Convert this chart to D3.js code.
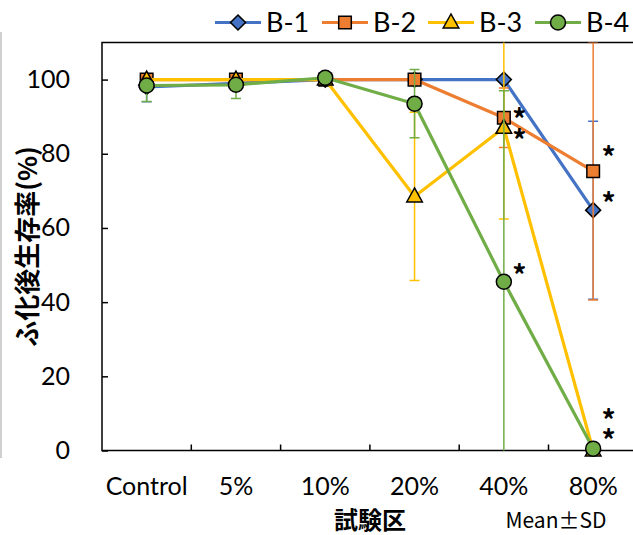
<!DOCTYPE html>
<html><head><meta charset="utf-8">
<script src="https://cdn.jsdelivr.net/npm/d3@7"></script>
<style>
html,body{margin:0;padding:0;background:#fff;}
svg{display:block;}
</style>
</head><body>
<svg id="chart" width="633" height="535"></svg>
<script>
const categories = ["Control","5%","10%","20%","40%","80%"];
const seriesNames = ["B-1","B-2","B-3","B-4"];
const seriesColors = ["#4472C4","#ED7D31","#FFC000","#70AD47"];
const seriesShapes = ["diamond","square","triangle","circle"];
const b1 = [98, 99, 100, 100, 100, 64.8];
const b2 = [100, 100, 100, 100, 89.7, 75.3];
const b3 = [100, 100, 100, 68.5, 87, 0];
const b4 = [98.4, 98.6, 100.5, 93.5, 45.5, 0.5];
const b1Up = [2, 0, 0, 0, 0, 24];
const b1Down = [4, 0, 0, 0, 0, 24];
const b2Up = [0, 0, 0, 0, 8, 34.7];
const b2Down = [0, 0, 0, 0, 8, 34.7];
const b3Up = [0, 0, 0, 22.7, 24.6, 0];
const b3Down = [0, 0, 0, 22.7, 24.6, 0];
const b4Up = [1.5, 1.3, 0, 9.2, 51.5, 0];
const b4Down = [4.3, 3.7, 0, 9.2, 51.5, 0];
const yTicks = [0, 20, 40, 60, 80, 100];
// significance marks: category and the value at which the "*" sits
const marks = [
  {cat: "40%", v: 90.1},
  {cat: "40%", v: 84.5},
  {cat: "40%", v: 48.1},
  {cat: "80%", v: 79.9},
  {cat: "80%", v: 67.5},
  {cat: "80%", v: 9.1},
  {cat: "80%", v: 3.7}
];
const yTitle = "ふ化後生存率(%)";
const xTitle = "試験区";
const note = "Mean\u00B1SD";

const values = [b1, b2, b3, b4];
const ups = [b1Up, b2Up, b3Up, b4Up];
const downs = [b1Down, b2Down, b3Down, b4Down];

const svg = d3.select("#chart");
const L = 102, T = 42.5, B = 450.5, band = 89.3;
const R = L + band * categories.length;
const x = d3.scaleBand().domain(categories).range([L, R]).paddingInner(0).paddingOuter(0);
const cx = c => x(c) + x.bandwidth() / 2;
const y = d3.scaleLinear().domain([0, 110]).range([B, T]);

const latin = "Lato, 'Noto Sans', sans-serif";
const jp = "'Noto Sans CJK JP', sans-serif";

// outer chart border remnant
svg.append("line").attr("x1", 1).attr("x2", 1).attr("y1", 32).attr("y2", 458)
  .attr("stroke", "#b0b0b0").attr("stroke-width", 1.2);

// clip
svg.append("defs").append("clipPath").attr("id", "plotclip")
  .append("rect").attr("x", L).attr("y", T).attr("width", R - L).attr("height", B - T);

// frame
svg.append("rect").attr("x", L).attr("y", T).attr("width", R - L).attr("height", B - T)
  .attr("fill", "none").attr("stroke", "#000").attr("stroke-width", 1.5);

// y axis
const yAxis = d3.axisLeft(y).tickValues(yTicks).tickSizeInner(-6).tickSizeOuter(0).tickPadding(32);
const gy = svg.append("g").attr("transform", `translate(${L},0)`).call(yAxis);
gy.select(".domain").remove();
gy.selectAll(".tick line").attr("stroke", "#000").attr("stroke-width", 1.5);
gy.selectAll(".tick text").attr("font-family", latin).attr("font-size", 25).attr("fill", "#000");

// x axis labels
const xAxis = d3.axisBottom(x).tickSize(0).tickPadding(27);
const gx = svg.append("g").attr("transform", `translate(0,${B})`).call(xAxis);
gx.select(".domain").remove();
gx.selectAll(".tick text").attr("font-family", latin).attr("font-size", 25).attr("fill", "#000");
// boundary ticks
svg.append("g").selectAll("line").data(categories.slice(1)).join("line")
  .attr("x1", d => x(d)).attr("x2", d => x(d))
  .attr("y1", B).attr("y2", B - 6)
  .attr("stroke", "#000").attr("stroke-width", 1.5);

function shapePath(shape) {
  if (shape === "diamond") return "M0,-7.5L7.5,0L0,7.5L-7.5,0Z";
  if (shape === "square") return "M-6.3,-6.3H6.3V6.3H-6.3Z";
  if (shape === "triangle") return "M0,-8.5L7.8,5.5L-7.8,5.5Z";
  return null;
}
function drawMarker(g, shape, color, px, py) {
  if (shape === "circle") {
    g.append("circle").attr("cx", px).attr("cy", py).attr("r", 7.5)
      .attr("fill", color).attr("stroke", "#000").attr("stroke-width", 1.5);
  } else {
    g.append("path").attr("d", shapePath(shape)).attr("transform", `translate(${px},${py})`)
      .attr("fill", color).attr("stroke", "#000").attr("stroke-width", 1.5);
  }
}

const line = d3.line().x((d, i) => cx(categories[i])).y(d => y(d));

values.forEach((vals, si) => {
  const color = seriesColors[si];
  const g = svg.append("g");
  const gc = g.append("g").attr("clip-path", "url(#plotclip)");
  // error bars
  vals.forEach((v, i) => {
    const up = ups[si][i], dn = downs[si][i];
    if (!up && !dn) return;
    const px = cx(categories[i]);
    const hi = v + up, lo = v - dn;
    gc.append("line").attr("x1", px).attr("x2", px).attr("y1", y(hi)).attr("y2", y(lo))
      .attr("stroke", color).attr("stroke-width", 1.5);
    [hi, lo].forEach(e => {
      if (e > 110.01 || e < 0) return;
      gc.append("line").attr("x1", px - 5).attr("x2", px + 5).attr("y1", y(e)).attr("y2", y(e))
        .attr("stroke", color).attr("stroke-width", 1.5);
    });
  });
  // line
  g.append("path").datum(vals).attr("d", line).attr("fill", "none")
    .attr("stroke", color).attr("stroke-width", 3.2).attr("stroke-linejoin", "round");
  // markers
  vals.forEach((v, i) => drawMarker(g, seriesShapes[si], color, cx(categories[i]), y(v)));
});

// asterisks
svg.append("g").selectAll("text").data(marks).join("text")
  .attr("x", d => cx(d.cat) + 15.5).attr("y", d => y(d.v) + 14)
  .attr("text-anchor", "middle")
  .attr("font-family", jp).attr("font-size", 28).attr("font-weight", "bold")
  .attr("fill", "#000").text("*");

// legend
const legend = svg.append("g");
const legX = [215, 322, 428, 535];
seriesNames.forEach((name, i) => {
  const lx = legX[i], ly = 22.5;
  legend.append("line").attr("x1", lx).attr("x2", lx + 46).attr("y1", ly).attr("y2", ly)
    .attr("stroke", seriesColors[i]).attr("stroke-width", 3.2);
  drawMarker(legend, seriesShapes[i], seriesColors[i], lx + 23, ly);
  legend.append("text").attr("x", lx + 51).attr("y", ly + 9.5)
    .attr("font-family", latin).attr("font-size", 27).attr("fill", "#000").text(name);
});

// titles
svg.append("text").attr("transform", "translate(25,246.5) rotate(-90)")
  .attr("text-anchor", "middle").attr("dominant-baseline", "central")
  .attr("font-family", jp).attr("font-weight", "bold")
  .attr("font-size", 26).attr("fill", "#000").text(yTitle);
svg.append("text").attr("x", 370).attr("y", 518)
  .attr("text-anchor", "middle").attr("dominant-baseline", "central")
  .attr("font-family", jp).attr("font-weight", "bold")
  .attr("font-size", 24).attr("fill", "#000").text(xTitle);
svg.append("text").attr("x", 556).attr("y", 519)
  .attr("text-anchor", "middle").attr("dominant-baseline", "central")
  .attr("font-family", jp)
  .attr("font-size", 21).attr("fill", "#000").text(note);
</script>
</body></html>
